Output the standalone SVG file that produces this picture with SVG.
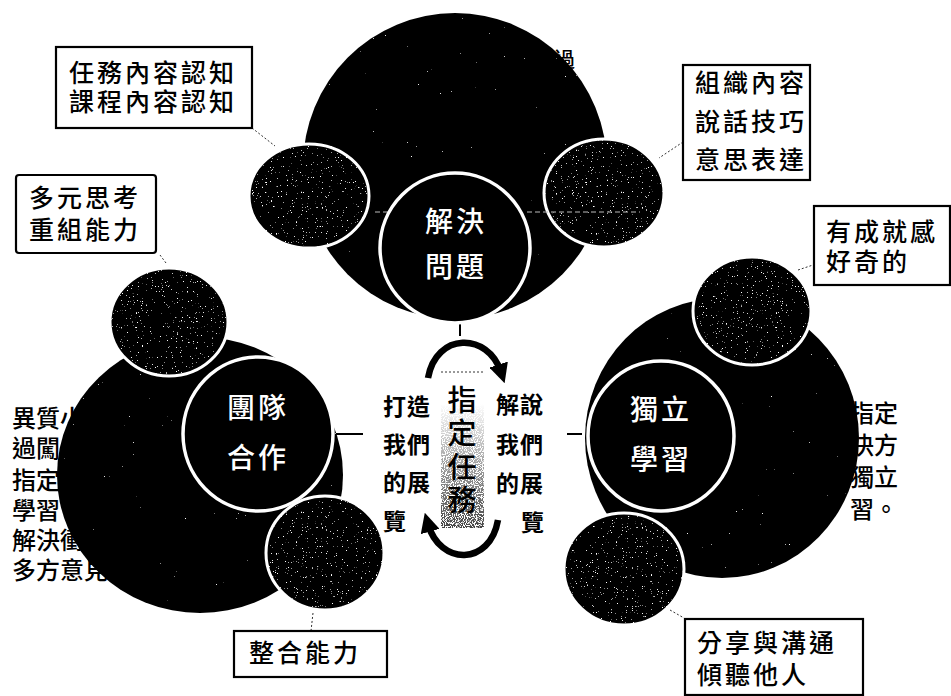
<svg xmlns="http://www.w3.org/2000/svg" width="951" height="696" viewBox="0 0 951 696">
<style>
text{font-family:"Noto Sans CJK TC","Liberation Sans",sans-serif;fill:#000}
.box{fill:#fff;stroke:#000;stroke-width:2.2}
.lb{font-size:25px;letter-spacing:3px;font-weight:500}
.big{fill:#000;filter:url(#sparse)}
.small{fill:#000;stroke:#fff;stroke-width:3;filter:url(#dense)}
.inner{fill:#000;stroke:#fff;stroke-width:3.5}
.in{font-size:28px;fill:#fff;font-weight:500;letter-spacing:3px}
.side{font-size:24px;font-weight:500}
.mid{font-size:23px;font-weight:700;letter-spacing:1px}
.task{font-size:29px;font-weight:500;text-anchor:middle}
.lead{fill:none;stroke:#333;stroke-width:1;stroke-dasharray:2 2}
.solid{fill:none;stroke:#000;stroke-width:2}
.arc{fill:none;stroke:#000;stroke-width:6.5}
.streak{fill:none;stroke:#bbb;stroke-width:1;stroke-dasharray:5 3}
</style>
<defs>
<filter id="sparse" x="-5%" y="-5%" width="110%" height="110%">
<feTurbulence type="fractalNoise" baseFrequency="0.55" numOctaves="2" seed="4"/>
<feColorMatrix type="matrix" values="0 0 0 0 1 0 0 0 0 1 0 0 0 0 1 0 0 0 14 -11.6"/>
<feComposite in2="SourceAlpha" operator="in" result="n"/>
<feMerge><feMergeNode in="SourceGraphic"/><feMergeNode in="n"/></feMerge>
</filter>
<filter id="dense" x="-5%" y="-5%" width="110%" height="110%">
<feTurbulence type="fractalNoise" baseFrequency="0.8" numOctaves="2" seed="9"/>
<feColorMatrix type="matrix" values="0 0 0 0 1 0 0 0 0 1 0 0 0 0 1 0 0 0 12 -8.5"/>
<feComposite in2="SourceAlpha" operator="in" result="n"/>
<feMerge><feMergeNode in="SourceGraphic"/><feMergeNode in="n"/></feMerge>
</filter>
<linearGradient id="fade" x1="0" y1="0" x2="0" y2="1">
<stop offset="0.2" stop-color="#fff"/><stop offset="0.55" stop-color="#aaa"/><stop offset="1" stop-color="#444"/>
</linearGradient>
<filter id="grain" x="0" y="0" width="100%" height="100%">
<feTurbulence type="fractalNoise" baseFrequency="0.9" numOctaves="1" seed="3" result="t"/>
<feColorMatrix in="t" type="matrix" values="0 0 0 0 1 0 0 0 0 1 0 0 0 0 1 0 0 0 14 -7" result="w"/>
<feComposite in="w" in2="SourceAlpha" operator="in" result="n"/>
<feMerge><feMergeNode in="SourceGraphic"/><feMergeNode in="n"/></feMerge>
</filter>
<marker id="head" viewBox="0 0 10 10" refX="4" refY="5" markerWidth="3" markerHeight="3" orient="auto-start-reverse"><path d="M0 0L10 5L0 10z" fill="#000"/></marker>
</defs>

<g id="connectors">
<path class="lead" d="M252 128L275 146"/>
<path class="lead" d="M683 142L659 158"/>
<path class="lead" d="M160 255L166 263"/>
<path class="lead" d="M798 270L813 265"/>
<path class="lead" d="M670 610L684 618"/>
<path class="lead" d="M313 613L311 631"/>
<path class="solid" d="M460 320V336"/>
<path class="solid" d="M335 434H363"/>
<path class="solid" d="M567 434H582"/>
<path class="arc" d="M428 378C436 332 488 332 501 372" marker-end="url(#head)"/>
<path class="arc" d="M498 520C490 566 440 566 428 524" marker-end="url(#head)"/>
</g>

<g id="node-solve">
<text x="554" y="67" style="font-size:21px;font-weight:500">過</text>
<ellipse class="big" cx="455" cy="166" rx="152" ry="153"/>
<ellipse class="small" cx="309" cy="196" rx="60" ry="52"/>
<ellipse class="small" cx="604" cy="193" rx="60" ry="54"/>
<path class="streak" d="M375 212H392M527 212H640"/>
<ellipse class="inner" cx="455" cy="248" rx="75" ry="75"/>
<text class="in"><tspan x="425" y="232">解決</tspan><tspan x="425" y="277">問題</tspan></text>
</g>

<g id="node-team">
<text class="side"><tspan x="12" y="427">異質小</tspan><tspan x="12" y="457">過闖</tspan><tspan x="12" y="489">指定</tspan><tspan x="12" y="519">學習</tspan><tspan x="12" y="549">解決衝</tspan><tspan x="12" y="579">多方意見</tspan></text>
<ellipse class="big" cx="200" cy="475" rx="143" ry="138"/>
<ellipse class="small" cx="169" cy="322" rx="59" ry="54"/>
<ellipse class="small" cx="325" cy="553" rx="59" ry="57"/>
<ellipse class="inner" cx="258" cy="434" rx="75" ry="77"/>
<text class="in"><tspan x="227" y="418">團隊</tspan><tspan x="227" y="468">合作</tspan></text>
</g>

<g id="node-independent">
<text class="side"><tspan x="850" y="422">指定</tspan><tspan x="850" y="454">決方</tspan><tspan x="850" y="486">獨立</tspan><tspan x="850" y="518">習。</tspan></text>
<ellipse class="big" cx="722" cy="438" rx="137" ry="140"/>
<ellipse class="small" cx="752" cy="311" rx="59" ry="54"/>
<ellipse class="small" cx="624" cy="569" rx="60" ry="56"/>
<ellipse class="inner" cx="661" cy="436" rx="73" ry="75"/>
<text class="in"><tspan x="630" y="420">獨立</tspan><tspan x="630" y="470">學習</tspan></text>
</g>

<g id="node-task-box-1"><rect class="box" x="56" y="47" width="196" height="81"/>
<text class="lb"><tspan x="69" y="82">任務內容認知</tspan><tspan x="69" y="111">課程內容認知</tspan></text></g>
<g id="node-task-box-2"><rect class="box" x="16" y="175" width="140" height="78" rx="3"/>
<text class="lb"><tspan x="29" y="207">多元思考</tspan><tspan x="29" y="239">重組能力</tspan></text></g>
<g id="node-task-box-3"><rect class="box" x="683" y="65" width="127" height="115"/>
<text class="lb"><tspan x="695" y="92">組織內容</tspan><tspan x="695" y="131">說話技巧</tspan><tspan x="695" y="169">意思表達</tspan></text></g>
<g id="node-task-box-4"><rect class="box" x="814" y="206" width="136" height="79"/>
<text class="lb"><tspan x="826" y="241">有成就感</tspan><tspan x="826" y="271">好奇的</tspan></text></g>
<g id="node-task-box-5"><rect class="box" x="685" y="619" width="178" height="76"/>
<text class="lb"><tspan x="697" y="652">分享與溝通</tspan><tspan x="697" y="684">傾聽他人</tspan></text></g>
<g id="node-task-box-6"><rect class="box" x="234" y="631" width="153" height="46"/>
<text class="lb" x="249" y="662">整合能力</text></g>

<g id="node-center">
<rect x="441" y="373" width="43" height="155" fill="url(#fade)" filter="url(#grain)"/>
<path class="lead" d="M441 372H484"/>
<text class="task"><tspan x="462" y="411">指</tspan><tspan x="462" y="444">定</tspan><tspan x="462" y="478">任</tspan><tspan x="462" y="511">務</tspan></text>
<text class="mid"><tspan x="383" y="415">打造</tspan><tspan x="383" y="453">我們</tspan><tspan x="383" y="491">的展</tspan><tspan x="383" y="530">覽</tspan></text>
<text class="mid"><tspan x="496" y="413">解說</tspan><tspan x="496" y="453">我們</tspan><tspan x="496" y="492">的展</tspan><tspan x="521" y="531">覽</tspan></text>
</g>
</svg>
